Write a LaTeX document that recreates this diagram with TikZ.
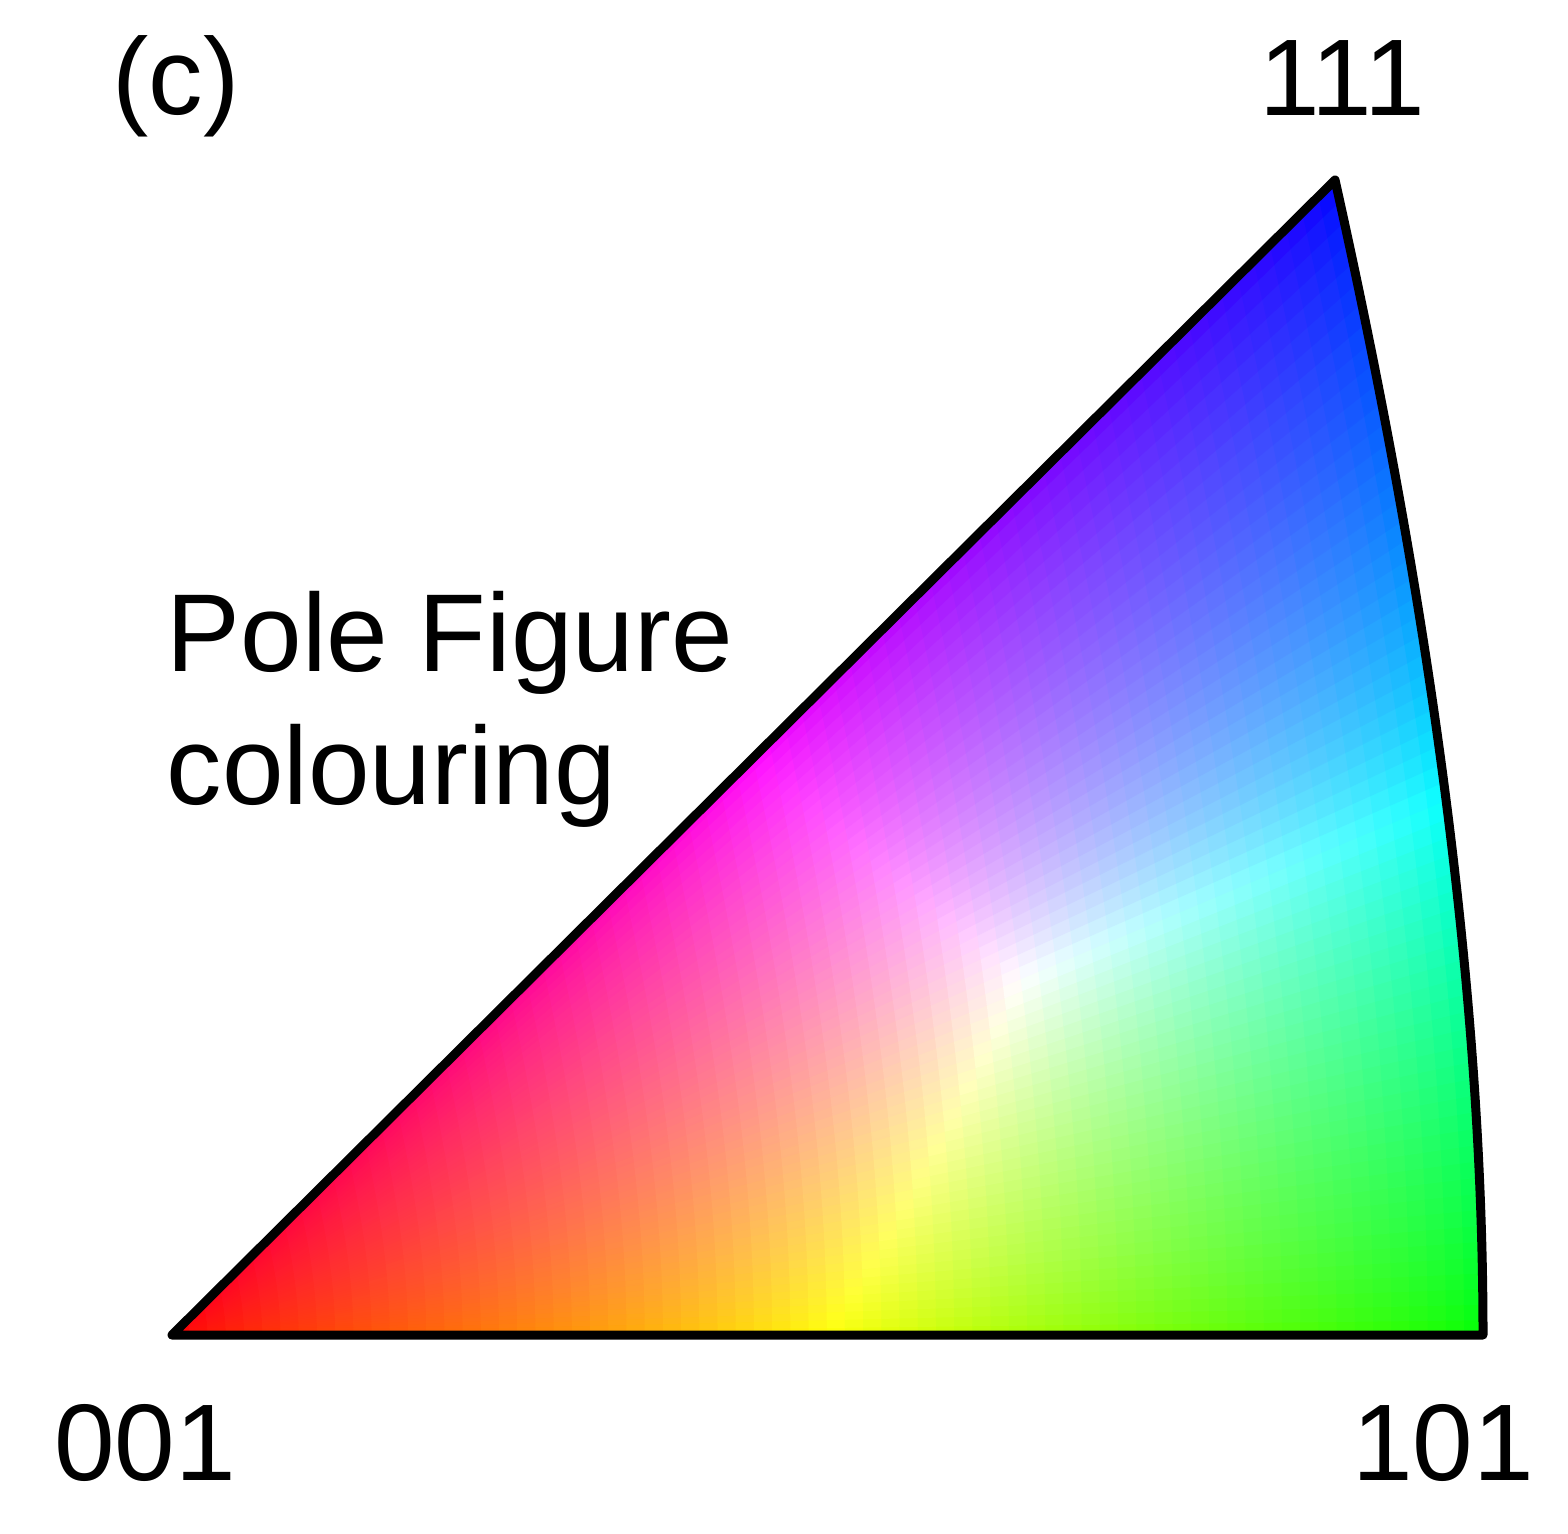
\documentclass[tikz,border=0pt]{standalone}
\usepackage{fontspec}
\setmainfont{Liberation Sans}
\usetikzlibrary{calc}
\begin{document}
\begin{tikzpicture}[lbl/.style={inner sep=0pt, anchor=base, font=\fontsize{31}{38}\selectfont},
  outline/.style={draw=black, line width=0.09cm, line join=round}]
\useasboundingbox (0,0) rectangle (15.68,15.33);
\fill[white] (0,0) rectangle (15.68,15.33);
\coordinate (O) at (1.72,1.98);
\coordinate (G) at (14.83,1.98);
\coordinate (B) at (13.35,13.53);
\coordinate (c1) at (14.83,5.267);
\coordinate (c2) at (14.337,9.117);
\def\NU{72}
\def\NV{64}
\foreach \j in {0,...,\NV}{
  \pgfmathsetmacro{\vv}{\j/\NV}
  \pgfmathsetmacro{\ex}{(1-\vv)*(1-\vv)*14.83+2*\vv*(1-\vv)*14.83+\vv*\vv*13.35}
  \pgfmathsetmacro{\ey}{(1-\vv)*(1-\vv)*1.98+2*\vv*(1-\vv)*6.91+\vv*\vv*13.53}
  \coordinate (E\j) at (\ex,\ey);
}
\pgfmathtruncatemacro{\NUm}{\NU-1}
\pgfmathtruncatemacro{\NVm}{\NV-1}
\foreach \i in {0,...,\NUm}{
  \pgfmathsetmacro{\ua}{\i/\NU}
  \pgfmathsetmacro{\ub}{(\i+1)/\NU}
  \pgfmathsetmacro{\uc}{(\i+0.5)/\NU}
  \foreach \j in {0,...,\NVm}{
    \pgfmathtruncatemacro{\jn}{\j+1}
    \pgfmathsetmacro{\vc}{(\j+0.5)/\NV}
    \pgfmathsetmacro{\la}{1-\uc}
    \pgfmathsetmacro{\lb}{\uc*(1-\vc)}
    \pgfmathsetmacro{\lc}{\uc*\vc}
    \pgfmathsetmacro{\mx}{max(\la,\lb,\lc)}
    \pgfmathsetmacro{\cra}{min(1,(\la/\mx)^0.65)}
    \pgfmathsetmacro{\crb}{min(1,(\lb/\mx)^0.65)}
    \pgfmathsetmacro{\crc}{min(1,(\lc/\mx)^0.65)}
    \definecolor{cc}{rgb}{\cra,\crb,\crc}
    \fill[cc, draw=cc, line width=0.4pt] ($(O)!\ua!(E\j)$) -- ($(O)!\ub!(E\j)$) -- ($(O)!\ub!(E\jn)$) -- ($(O)!\ua!(E\jn)$) -- cycle;
  }
}
\draw[outline] (O) -- (G) .. controls (c1) and (c2) .. (B) -- cycle;
\node[lbl] (lc) at (1.76,14.18) {(c)};
\node[lbl] (l111) at (13.42,14.17) {111};
\node[lbl] (l001) at (1.45,0.53) {001};
\node[lbl] (l101) at (14.43,0.53) {101};
\node[lbl, anchor=base west, font=\fontsize{31.5}{38}\selectfont] (pf1) at (1.66,8.61) {Pole Figure};
\node[lbl, anchor=base west, font=\fontsize{31.5}{38}\selectfont] (pf2) at (1.66,7.28) {colouring};
\end{tikzpicture}
\end{document}
